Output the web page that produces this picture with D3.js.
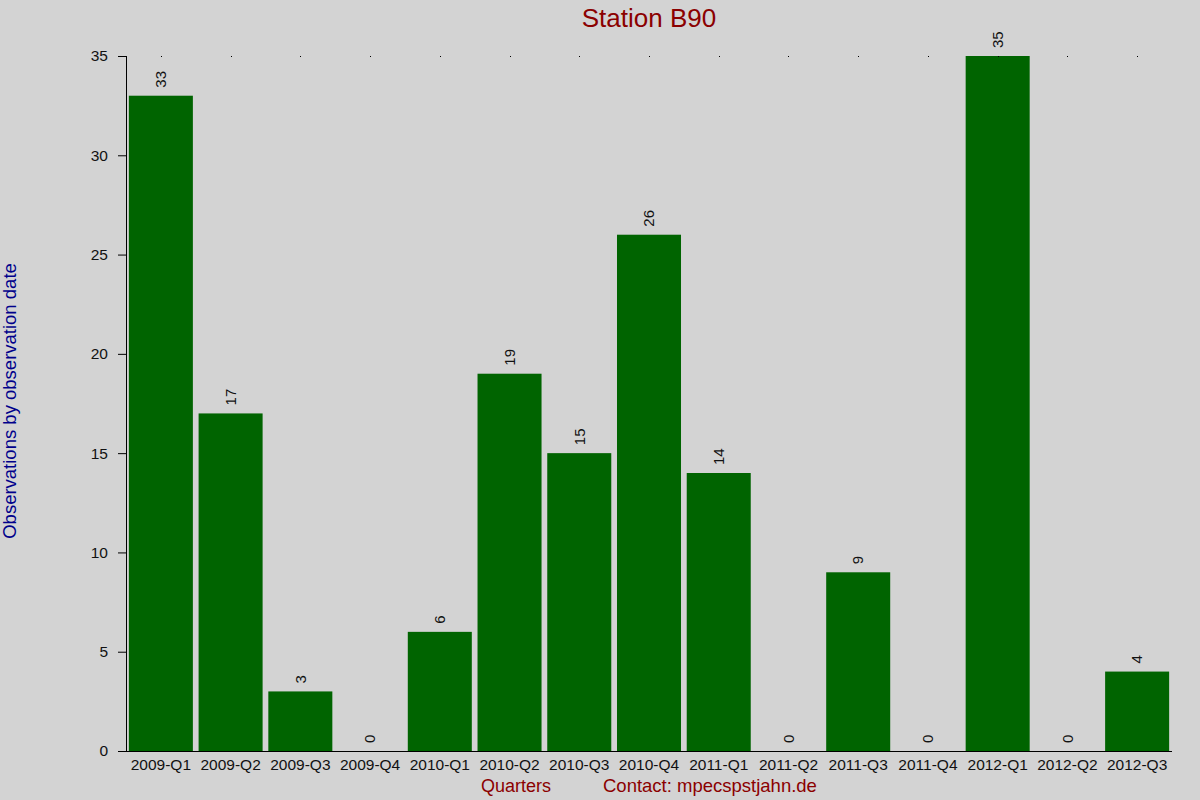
<!DOCTYPE html>
<html>
<head>
<meta charset="utf-8">
<script src="https://cdn.jsdelivr.net/npm/d3@7"></script>
<style>
  body { margin: 0; background: #d3d3d3; }
  svg { display: block; font-family: "Liberation Sans", Arial, sans-serif; }
</style>
</head>
<body>
<svg id="chart" width="1200" height="800"></svg>
<script>
// ===============================
// DATA
// ===============================

const quarters = ["2009-Q1","2009-Q2","2009-Q3","2009-Q4","2010-Q1","2010-Q2","2010-Q3","2010-Q4",
                  "2011-Q1","2011-Q2","2011-Q3","2011-Q4","2012-Q1","2012-Q2","2012-Q3"];

const observations = [33,17,3,0,6,19,15,26,14,0,9,0,35,0,4];

const yTicks = [0,5,10,15,20,25,30,35];

// ===============================
// SCALES
// ===============================

const svg = d3.select("#chart");

const plotLeft = 126, plotRight = 1172, plotTop = 56, plotBottom = 751;

const x = d3.scaleBand()
    .domain(quarters)
    .range([plotLeft, plotRight])
    .paddingInner(0.082)
    .paddingOuter(0.041);

const y = d3.scaleLinear()
    .domain([0, 35])
    .range([plotBottom, plotTop]);

// -------- BARS --------

svg.selectAll(".bar")
    .data(observations)
    .enter()
    .append("rect")
    .attr("class", "bar")
    .attr("x", (d, i) => x(quarters[i]))
    .attr("y", d => y(d))
    .attr("width", x.bandwidth())
    .attr("height", d => plotBottom - y(d))
    .attr("fill", "#006400");

// -------- VALUE LABELS --------

svg.selectAll(".val")
    .data(observations)
    .enter()
    .append("text")
    .attr("class", "val")
    .attr("transform", (d, i) =>
        `translate(${x(quarters[i]) + x.bandwidth() / 2},${y(d) - 8}) rotate(-90)`)
    .attr("dy", "0.35em")
    .attr("font-size", 15)
    .attr("fill", "#111")
    .text(d => d);

// -------- TOP DOTS --------

svg.selectAll(".dot")
    .data(quarters)
    .enter()
    .append("rect")
    .attr("x", d => Math.round(x(d) + x.bandwidth() / 2))
    .attr("y", y(35))
    .attr("width", 1)
    .attr("height", 1)
    .attr("fill", "#000");

// -------- AXES --------

const yAxis = d3.axisLeft(y)
    .tickValues(yTicks)
    .tickSize(8)
    .tickPadding(10);

const gy = svg.append("g")
    .attr("transform", `translate(${plotLeft},0)`)
    .call(yAxis);

gy.select(".domain").remove();
gy.append("line")
    .attr("x1", 0.5).attr("x2", 0.5)
    .attr("y1", plotTop).attr("y2", plotBottom)
    .attr("stroke", "#000");
gy.selectAll(".tick text").attr("font-size", 15.5).attr("fill", "#111").attr("font-family", null);

const xAxis = d3.axisBottom(x)
    .tickSize(0)
    .tickPadding(8);

const gx = svg.append("g")
    .attr("transform", `translate(0,${plotBottom})`)
    .call(xAxis);

gx.select(".domain").remove();
gx.append("line")
    .attr("x1", 118).attr("x2", plotRight)
    .attr("y1", 0.5).attr("y2", 0.5)
    .attr("stroke", "#000");
gx.selectAll(".tick text").attr("font-size", 15.5).attr("fill", "#111").attr("font-family", null);

// -------- TITLES --------

svg.append("text")
    .attr("x", 649)
    .attr("y", 27)
    .attr("text-anchor", "middle")
    .attr("font-size", 26)
    .attr("fill", "#8b0000")
    .text("Station B90");

svg.append("text")
    .attr("transform", "translate(16,401) rotate(-90)")
    .attr("text-anchor", "middle")
    .attr("font-size", 18.5)
    .attr("fill", "#00008b")
    .text("Observations by observation date");

svg.append("text")
    .attr("x", 516)
    .attr("y", 792)
    .attr("text-anchor", "middle")
    .attr("font-size", 18)
    .attr("fill", "#8b0000")
    .text("Quarters");

svg.append("text")
    .attr("x", 603)
    .attr("y", 792)
    .attr("font-size", 18.5)
    .attr("fill", "#8b0000")
    .text("Contact: mpecspstjahn.de");
</script>
</body>
</html>
